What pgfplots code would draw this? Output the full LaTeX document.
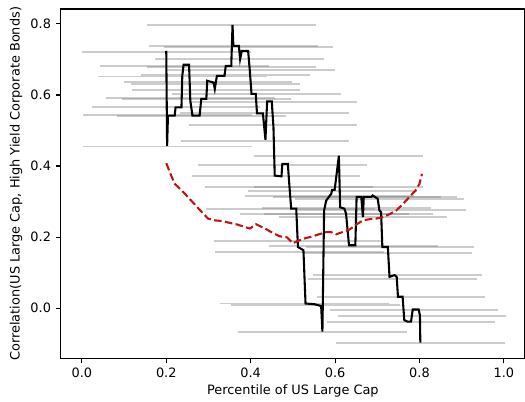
\documentclass[border=0pt]{standalone}
\usepackage{fontspec}
\setmainfont{DejaVu Sans}
\usepackage{pgfplots}
\pgfplotsset{compat=1.18}
\definecolor{rdash}{RGB}{190,20,20}
\newcommand{\seg}[3]{\addplot[gray, opacity=0.4, line width=1.4pt, forget plot] coordinates {(#1,#3) (#2,#3)};}
\begin{document}
\begin{tikzpicture}[trim axis right]
\begin{axis}[
  scale only axis,
  width=334.7pt, height=252pt,
  xmin=-0.05, xmax=1.05, ymin=-0.142, ymax=0.842,
  xtick={0,0.2,0.4,0.6,0.8,1.0},
  xticklabels={0.0,0.2,0.4,0.6,0.8,1.0},
  ytick={0,0.2,0.4,0.6,0.8},
  yticklabels={0.0,0.2,0.4,0.6,0.8},
  tick align=outside, tick pos=left,
  major tick length=3.5pt,
  every tick/.style={black, line width=0.8pt},
  axis line style={line width=0.8pt},
  xlabel={Percentile of US Large Cap},
  ylabel={Correlation(US Large Cap, High Yield Corporate Bonds)},
  xlabel style={yshift=2pt},
  ylabel style={yshift=-1pt},
  tick label style={font=\fontsize{9.3}{11}\selectfont},
  label style={font=\fontsize{9.3}{11}\selectfont},
]
\seg{0.155}{0.555}{0.796}
\seg{0.159}{0.559}{0.737}
\seg{0.194}{0.594}{0.734}
\seg{0.000}{0.400}{0.721}
\seg{0.174}{0.574}{0.701}
\seg{0.043}{0.443}{0.682}
\seg{0.154}{0.554}{0.680}
\seg{0.199}{0.599}{0.670}
\seg{0.141}{0.541}{0.656}
\seg{0.039}{0.439}{0.652}
\seg{0.099}{0.499}{0.637}
\seg{0.116}{0.516}{0.632}
\seg{0.118}{0.518}{0.613}
\seg{0.213}{0.613}{0.603}
\seg{0.096}{0.496}{0.588}
\seg{0.058}{0.458}{0.591}
\seg{0.253}{0.653}{0.581}
\seg{0.023}{0.423}{0.565}
\seg{0.232}{0.632}{0.549}
\seg{0.003}{0.403}{0.543}
\seg{0.083}{0.483}{0.541}
\seg{0.253}{0.653}{0.515}
\seg{0.234}{0.634}{0.471}
\seg{0.002}{0.402}{0.455}
\seg{0.408}{0.808}{0.427}
\seg{0.275}{0.675}{0.404}
\seg{0.260}{0.660}{0.371}
\seg{0.291}{0.691}{0.342}
\seg{0.409}{0.809}{0.340}
\seg{0.394}{0.794}{0.329}
\seg{0.386}{0.786}{0.316}
\seg{0.452}{0.852}{0.312}
\seg{0.490}{0.890}{0.313}
\seg{0.506}{0.906}{0.306}
\seg{0.428}{0.828}{0.283}
\seg{0.295}{0.695}{0.280}
\seg{0.511}{0.911}{0.277}
\seg{0.374}{0.774}{0.264}
\seg{0.431}{0.831}{0.266}
\seg{0.466}{0.866}{0.257}
\seg{0.312}{0.712}{0.189}
\seg{0.443}{0.843}{0.175}
\seg{0.530}{0.930}{0.172}
\seg{0.316}{0.716}{0.158}
\seg{0.525}{0.925}{0.155}
\seg{0.547}{0.947}{0.094}
\seg{0.537}{0.937}{0.083}
\seg{0.556}{0.956}{0.031}
\seg{0.328}{0.728}{0.013}
\seg{0.354}{0.754}{0.008}
\seg{0.587}{0.987}{-0.004}
\seg{0.606}{1.006}{-0.022}
\seg{0.580}{0.980}{-0.038}
\seg{0.370}{0.770}{-0.067}
\seg{0.603}{1.003}{-0.097}
\addplot[black, line width=1.5pt, line join=miter] coordinates {
(0.200,0.724) (0.202,0.456) (0.204,0.542) (0.220,0.542) (0.222,0.565) (0.236,0.565)
(0.238,0.654) (0.241,0.685) (0.254,0.685) (0.257,0.584) (0.262,0.542) (0.279,0.542)
(0.283,0.589) (0.295,0.589) (0.297,0.640) (0.312,0.635) (0.315,0.617) (0.320,0.654)
(0.338,0.654) (0.341,0.682) (0.354,0.682) (0.357,0.797) (0.359,0.738) (0.372,0.738)
(0.375,0.701) (0.379,0.724) (0.394,0.724) (0.398,0.668) (0.402,0.603) (0.412,0.603)
(0.415,0.548) (0.429,0.548) (0.435,0.474) (0.439,0.582) (0.450,0.582) (0.454,0.509)
(0.457,0.373) (0.473,0.371) (0.475,0.406) (0.488,0.406) (0.492,0.341) (0.496,0.280)
(0.508,0.280) (0.512,0.172) (0.525,0.163) (0.530,0.013) (0.551,0.011) (0.567,0.006)
(0.570,-0.066) (0.574,0.275) (0.579,0.303) (0.591,0.322) (0.593,0.333) (0.599,0.333)
(0.609,0.429) (0.612,0.284) (0.622,0.280) (0.626,0.266) (0.633,0.177) (0.648,0.177)
(0.651,0.313) (0.662,0.313) (0.666,0.256) (0.668,0.313) (0.686,0.313) (0.689,0.317)
(0.701,0.308) (0.705,0.275) (0.709,0.270) (0.712,0.172) (0.725,0.172) (0.729,0.088)
(0.741,0.093) (0.746,0.088) (0.749,0.032) (0.760,0.032) (0.764,-0.034) (0.772,-0.038)
(0.780,-0.038) (0.784,-0.004) (0.798,-0.004) (0.801,-0.020) (0.802,-0.097)
};
\addplot[rdash, line width=1.5pt, dash pattern=on 5.5pt off 2.4pt] coordinates {
(0.200,0.408) (0.210,0.378) (0.220,0.350) (0.235,0.333) (0.248,0.317) (0.265,0.295)
(0.279,0.277) (0.299,0.252) (0.315,0.247) (0.334,0.245) (0.350,0.240) (0.366,0.236)
(0.385,0.229) (0.398,0.224) (0.413,0.236) (0.425,0.229) (0.437,0.222) (0.455,0.210)
(0.469,0.202) (0.485,0.200) (0.500,0.183) (0.516,0.191) (0.530,0.197) (0.547,0.202)
(0.562,0.208) (0.579,0.214) (0.590,0.214) (0.603,0.208) (0.620,0.215) (0.634,0.221)
(0.650,0.235) (0.666,0.247) (0.680,0.250) (0.697,0.252) (0.713,0.256) (0.730,0.265)
(0.745,0.275) (0.760,0.292) (0.776,0.313) (0.790,0.330) (0.800,0.350) (0.806,0.378)
};
\end{axis}
\path ([xshift=-43.8pt]current axis.south west) ([yshift=6.5pt]current axis.north west);
\end{tikzpicture}
\end{document}
